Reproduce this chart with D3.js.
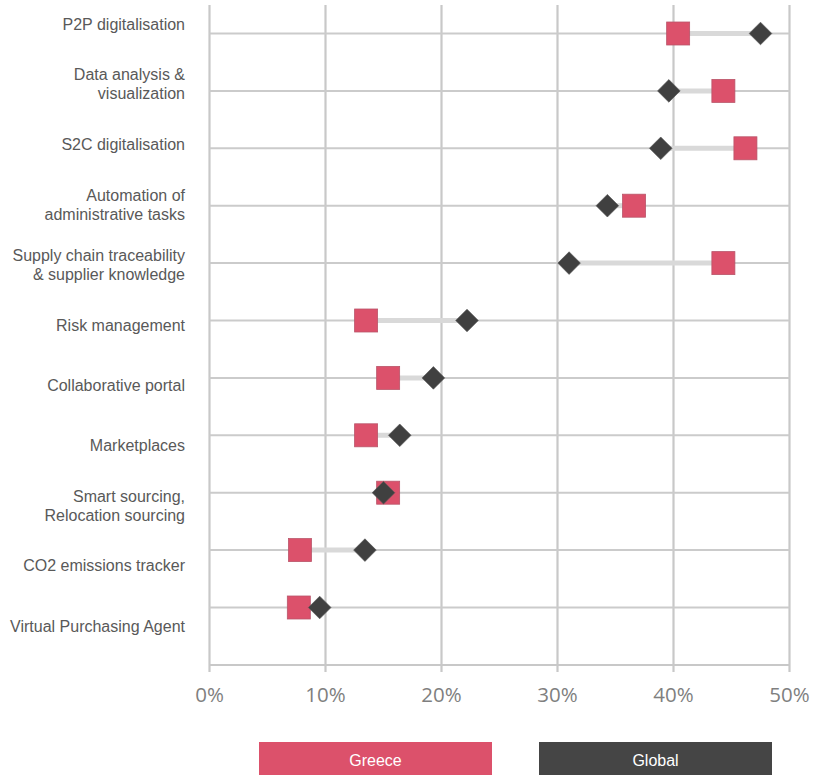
<!DOCTYPE html>
<html>
<head>
<meta charset="utf-8">
<script src="https://cdn.jsdelivr.net/npm/d3@7"></script>
<style>
  html, body { margin: 0; padding: 0; background: #fff; }
  svg { display: block; }
</style>
</head>
<body>
<svg id="chart" width="814" height="775"></svg>
<script>
// Adoption of digital procurement solutions, Greece vs Global (share of respondents, %)
const categories = [
  "P2P digitalisation",
  "Data analysis & visualization",
  "S2C digitalisation",
  "Automation of administrative tasks",
  "Supply chain traceability & supplier knowledge",
  "Risk management",
  "Collaborative portal",
  "Marketplaces",
  "Smart sourcing, Relocation sourcing",
  "CO2 emissions tracker",
  "Virtual Purchasing Agent"
];
// Label line breaks for each category
const labelLines = [
  ["P2P digitalisation"],
  ["Data analysis &", "visualization"],
  ["S2C digitalisation"],
  ["Automation of", "administrative tasks"],
  ["Supply chain traceability", "& supplier knowledge"],
  ["Risk management"],
  ["Collaborative portal"],
  ["Marketplaces"],
  ["Smart sourcing,", "Relocation sourcing"],
  ["CO2 emissions tracker"],
  ["Virtual Purchasing Agent"]
];
const greece = [40.4, 44.3, 46.2, 36.6, 44.3, 13.5, 15.4, 13.5, 15.4, 7.8, 7.7];
const global = [47.5, 39.6, 38.9, 34.3, 31.0, 22.2, 19.3, 16.4, 15.0, 13.4, 9.5];
const xTicks = [0, 10, 20, 30, 40, 50];
const seriesNames = ["Greece", "Global"];

const colors = { Greece: "#dc516b", Global: "#454545" };

const svg = d3.select("#chart");

const x = d3.scaleLinear().domain([0, 50]).range([209.5, 789.5]);
// Row positions for the markers
const yRow = d3.scalePoint().domain(categories).range([33.5, 607.5]);
// Bands for the category labels
const yLabel = d3.scaleBand().domain(categories).range([-6.1, 656.1]);
const plotTop = 5, axisY = 665;

const grid = svg.append("g");

// Vertical gridlines with small tick extensions below the axis
grid.selectAll("line.v").data(xTicks).join("line")
  .attr("class", "v")
  .attr("x1", d => x(d)).attr("x2", d => x(d))
  .attr("y1", plotTop).attr("y2", axisY + 7)
  .attr("stroke", "#c8c8c8").attr("stroke-width", 2.2);

// Horizontal row lines
grid.selectAll("line.h").data(categories).join("line")
  .attr("class", "h")
  .attr("x1", x(0)).attr("x2", x(50))
  .attr("y1", d => yRow(d)).attr("y2", d => yRow(d))
  .attr("stroke", "#cbcbcb").attr("stroke-width", 2);

// Axis baseline
grid.append("line")
  .attr("x1", x(0)).attr("x2", x(50))
  .attr("y1", axisY).attr("y2", axisY)
  .attr("stroke", "#c8c8c8").attr("stroke-width", 2.2);

// X tick labels
svg.append("g").selectAll("text").data(xTicks).join("text")
  .attr("x", d => x(d)).attr("y", 702)
  .attr("text-anchor", "middle")
  .attr("font-family", "'Open Sans', 'DejaVu Sans', sans-serif")
  .attr("font-size", 20.5)
  .attr("fill", "#7f7f7f")
  .text(d => d + "%");

// Category labels
const lab = svg.append("g").selectAll("text").data(categories).join("text")
  .attr("text-anchor", "end")
  .attr("font-family", "'Liberation Sans', Arial, sans-serif")
  .attr("font-size", 16)
  .attr("fill", "#595959");
lab.each(function(d, i) {
  const lines = labelLines[i];
  const cy = yLabel(d) + yLabel.bandwidth() / 2;
  const lh = 19;
  const t = d3.select(this);
  lines.forEach((l, k) => {
    t.append("tspan")
      .attr("x", 185)
      .attr("y", cy + (k - (lines.length - 1) / 2) * lh + 5.5)
      .text(l);
  });
});

const rows = categories.map((c, i) => ({ c, g: greece[i], w: global[i] }));

// Connectors between the two values
svg.append("g").selectAll("line").data(rows).join("line")
  .attr("x1", d => x(Math.min(d.g, d.w))).attr("x2", d => x(Math.max(d.g, d.w)))
  .attr("y1", d => yRow(d.c)).attr("y2", d => yRow(d.c))
  .attr("stroke", "#d9d9d9").attr("stroke-width", 5);

// Greece: squares
const sq = 23;
svg.append("g").selectAll("rect").data(rows).join("rect")
  .attr("x", d => x(d.g) - sq / 2).attr("y", d => yRow(d.c) - sq / 2)
  .attr("width", sq).attr("height", sq)
  .attr("fill", colors.Greece)
  .attr("stroke", "#b9556a").attr("stroke-width", 0.8);

// Global: diamonds
const dm = 16;
svg.append("g").selectAll("rect").data(rows).join("rect")
  .attr("x", -dm / 2).attr("y", -dm / 2)
  .attr("width", dm).attr("height", dm)
  .attr("transform", d => `translate(${x(d.w)},${yRow(d.c)}) rotate(45)`)
  .attr("fill", "#404040")
  .attr("stroke", "#555").attr("stroke-width", 0.6);

// Legend
const legendX = d3.scaleOrdinal().domain(seriesNames).range([259, 539]);
const lg = svg.append("g").selectAll("g").data(seriesNames).join("g")
  .attr("transform", d => `translate(${legendX(d)},742)`);
lg.append("rect")
  .attr("width", 233).attr("height", 36)
  .attr("fill", d => colors[d]);
lg.append("text")
  .attr("x", 116.5).attr("y", 23.5)
  .attr("text-anchor", "middle")
  .attr("font-family", "'Liberation Sans', Arial, sans-serif")
  .attr("font-size", 16)
  .attr("fill", "#fff")
  .text(d => d);
</script>
</body>
</html>
